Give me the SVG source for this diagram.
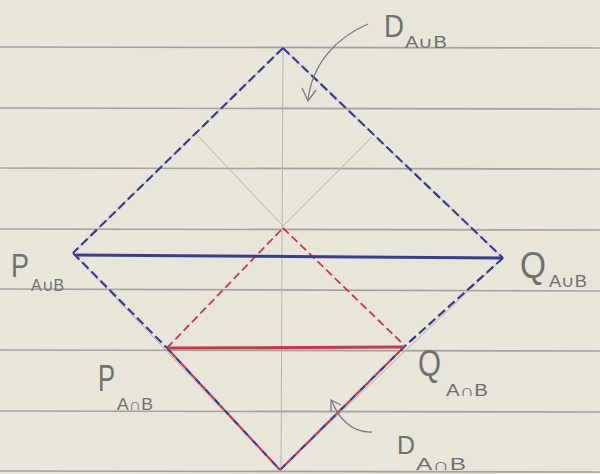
<svg xmlns="http://www.w3.org/2000/svg" width="600" height="474" viewBox="0 0 600 474">
<defs>
<style>
.rule{stroke:#a3a39c;stroke-width:1.6}
.pencil{stroke:#b4b4ac;stroke-width:1;fill:none}
.blue{stroke:#3a3d8e;stroke-width:2.2;fill:none;stroke-dasharray:9 4}
.bluealt{stroke:#3a3d8e;stroke-width:2.2;fill:none;stroke-dasharray:7 7}
.redalt{stroke:#c8384f;stroke-width:2.2;fill:none;stroke-dasharray:7 7;stroke-dashoffset:7}
.red{stroke:#c8384f;stroke-width:1.8;fill:none;stroke-dasharray:8 4}
.arrow{stroke:#7a7d78;stroke-width:1.3;fill:none}
.big{font-family:"Liberation Sans",sans-serif;font-weight:300;fill:#6f716c}
.sub{font-family:"Liberation Sans",sans-serif;fill:#6f716c}
</style>
</defs>
<rect width="600" height="474" fill="#e8e5db"/>
<g id="ruled-lines">
<line class="rule" x1="0" y1="47" x2="600" y2="48"/>
<line class="rule" x1="0" y1="108" x2="600" y2="109"/>
<line class="rule" x1="0" y1="168" x2="600" y2="169"/>
<line class="rule" x1="0" y1="229" x2="600" y2="230"/>
<line class="rule" x1="0" y1="289" x2="600" y2="291"/>
<line class="rule" x1="0" y1="350" x2="600" y2="351"/>
<line class="rule" x1="0" y1="411" x2="600" y2="412"/>
<line class="rule" x1="0" y1="471" x2="600" y2="472"/>
</g>
<g id="connectors">
<g id="pencil-construction">
<path class="pencil" d="M283 48 L73 253 L280 470 L503 258 Z"/>
<line class="pencil" x1="283" y1="48" x2="281" y2="470"/>
<line class="pencil" x1="197" y1="135" x2="283" y2="226"/>
<line class="pencil" x1="372" y1="137" x2="283" y2="226"/>
</g>
<g id="d-union">
<line class="blue" x1="283" y1="48" x2="73" y2="253"/>
<line class="blue" x1="283" y1="48" x2="503" y2="258"/>
<line class="blue" x1="73" y1="253" x2="167" y2="348"/>
<line class="blue" x1="503" y1="258" x2="405" y2="346"/>
<line class="bluealt" x1="167" y1="348" x2="280" y2="470"/>
<line class="bluealt" x1="405" y1="346" x2="280" y2="470"/>
</g>
<g id="d-intersection">
<line class="redalt" x1="167" y1="348" x2="280" y2="470"/>
<line class="redalt" x1="405" y1="346" x2="280" y2="470"/>
<line class="red" x1="167" y1="348" x2="283" y2="228"/>
<line class="red" x1="283" y1="228" x2="404" y2="345"/>
</g>
<line id="pq-union" x1="76" y1="255" x2="502" y2="258" stroke="#3a3d8e" stroke-width="3"/>
<line id="pq-intersection" x1="168" y1="348" x2="404" y2="347" stroke="#c8384f" stroke-width="3"/>
<g id="arrow-d-union">
<path class="arrow" d="M368 24 C335 38 312 65 308 100"/>
<path class="arrow" d="M302 88 L308 101 L316 90"/>
</g>
<g id="arrow-d-intersection">
<path class="arrow" d="M372 432 C352 433 338 418 332 401"/>
<path class="arrow" d="M331 412 L331 400 L341 405"/>
</g>
</g>
<g id="label-d-union">
<text class="big" x="384" y="37" font-size="32" textLength="20" lengthAdjust="spacingAndGlyphs">D</text>
<text class="sub" x="405" y="48" font-size="16" textLength="42" lengthAdjust="spacingAndGlyphs">A∪B</text>
</g>
<g id="label-p-union">
<text class="big" x="11" y="277" font-size="34" textLength="18" lengthAdjust="spacingAndGlyphs">P</text>
<text class="sub" x="31" y="291" font-size="16" textLength="33" lengthAdjust="spacingAndGlyphs">A∪B</text>
</g>
<g id="label-q-union">
<text class="big" x="520" y="278" font-size="36" textLength="26" lengthAdjust="spacingAndGlyphs">Q</text>
<text class="sub" x="549" y="287" font-size="16" textLength="38" lengthAdjust="spacingAndGlyphs">A∪B</text>
</g>
<g id="label-p-intersection">
<text class="big" x="98" y="391" font-size="36" textLength="17" lengthAdjust="spacingAndGlyphs">P</text>
<text class="sub" x="117" y="410" font-size="16" textLength="36" lengthAdjust="spacingAndGlyphs">A∩B</text>
</g>
<g id="label-q-intersection">
<text class="big" x="418" y="376" font-size="36" textLength="23" lengthAdjust="spacingAndGlyphs">Q</text>
<text class="sub" x="446" y="396" font-size="16" textLength="42" lengthAdjust="spacingAndGlyphs">A∩B</text>
</g>
<g id="label-d-intersection">
<text class="big" x="397" y="454" font-size="25" textLength="18" lengthAdjust="spacingAndGlyphs">D</text>
<text class="sub" x="416" y="470" font-size="16" textLength="50" lengthAdjust="spacingAndGlyphs">A∩B</text>
</g>
</svg>
